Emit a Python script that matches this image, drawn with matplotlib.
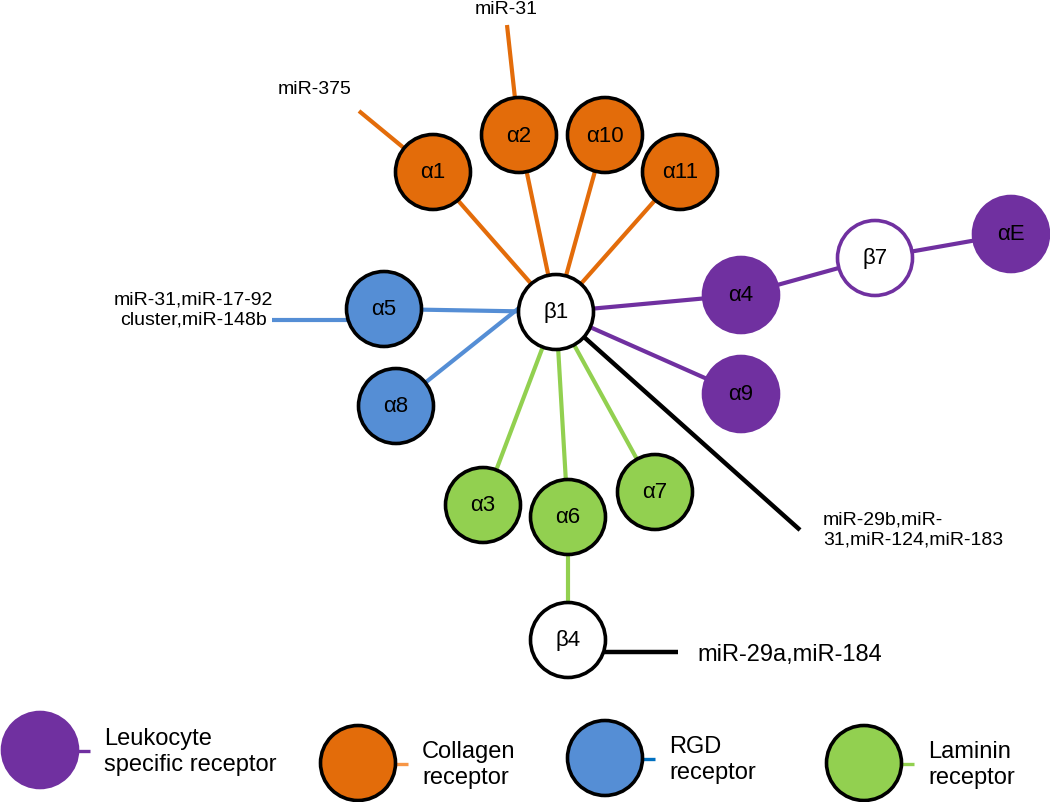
import matplotlib

matplotlib.use("Agg")
import matplotlib.pyplot as plt
from matplotlib.patches import Circle

plt.rcParams["font.family"] = ["Liberation Sans", "DejaVu Sans"]

PURPLE = "#7030A0"
ORANGE = "#E36C0A"
BLUE = "#558ED5"
GREEN = "#92D050"

# integrin nodes (pixel layout of the diagram)
node_names = ["β1", "α1", "α2", "α10", "α11", "α5", "α8", "α4", "α9", "β7", "αE", "α3", "α6", "α7", "β4"]
node_x = [556, 433, 519, 605, 680, 384, 396, 741, 741, 875, 1011, 483, 568, 655, 568]
node_y = [313, 173, 136, 136, 173, 310, 407, 296, 395, 259, 235, 506, 518, 493, 641]
node_fill = ["white", ORANGE, ORANGE, ORANGE, ORANGE, BLUE, BLUE, PURPLE, PURPLE, "white", PURPLE,
             GREEN, GREEN, GREEN, "white"]
node_edge = ["black", "black", "black", "black", "black", "black", "black", PURPLE, PURPLE, PURPLE, PURPLE,
             "black", "black", "black", "black"]

# heterodimer links
edge_src = ["α1", "α2", "α10", "α11", "α5", "α8", "α4", "α9", "β7", "β7", "α3", "α6", "α7", "β4"]
edge_dst = ["β1", "β1", "β1", "β1", "β1", "β1", "β1", "β1", "α4", "αE", "β1", "β1", "β1", "α6"]
edge_color = [ORANGE] * 4 + [BLUE] * 2 + [PURPLE] * 4 + [GREEN] * 4
edge_dst_dx = [0, 0, 0, 0, 0, -37, 0, 0, 0, 0, 0, 0, 0, 0]
edge_dst_dy = [0, 0, 0, 0, 0, -4, 0, 0, 0, 0, 0, 0, 0, 0]

# miRNA regulators
mir_node = ["α1", "α2", "α5", "β1", "β4"]
mir_end_x = [359, 507, 272, 800, 678]
mir_end_y = [112, 26, 321, 531, 653]
mir_attach_dy = [0, 0, 11, 0, 12]
mir_color = [ORANGE, ORANGE, BLUE, "black", "black"]
mir_text = ["miR-375", "miR-31", "miR-31,miR-17-92\ncluster,miR-148b",
            "miR-29b,miR-\n31,miR-124,miR-183", "miR-29a,miR-184"]
mir_text_x = [315, 506, 193, 823, 697]
mir_text_y = [89, 9, 310, 530, 655]
mir_text_ha = ["center", "center", "center", "left", "left"]
mir_text_size = [14, 14, 14, 14, 17]

# legend
legend_labels = ["Leukocyte\nspecific receptor", "Collagen\nreceptor", "RGD\nreceptor", "Laminin\nreceptor"]
legend_fill = [PURPLE, ORANGE, BLUE, GREEN]
legend_edge = [PURPLE, "black", "black", "black"]
legend_stub = [PURPLE, "#F79646", "#0070C0", GREEN]
legend_x = [40, 358, 605, 864]
legend_y = [751, 764, 759, 764]

R = 37.5

fig = plt.figure(figsize=(10.5, 8.03), dpi=100)
ax = fig.add_axes([0, 0, 1, 1])
ax.set_xlim(0, 1050)
ax.set_ylim(803, 0)
ax.set_aspect("equal")
ax.axis("off")

pos = {n: (x, y) for n, x, y in zip(node_names, node_x, node_y)}

for s, d, c, dx, dy in zip(edge_src, edge_dst, edge_color, edge_dst_dx, edge_dst_dy):
    x0, y0 = pos[s]
    x1, y1 = pos[d]
    ax.plot([x0, x1 + dx], [y0, y1 + dy], color=c, lw=3.0, solid_capstyle="butt", zorder=1)

for n, ex, ey, ady, c in zip(mir_node, mir_end_x, mir_end_y, mir_attach_dy, mir_color):
    x0, y0 = pos[n]
    ax.plot([ex, x0], [ey, y0 + ady], color=c, lw=3.2 if c == "black" else 3.0,
            solid_capstyle="butt", zorder=1)

for t, x, y, ha, fs in zip(mir_text, mir_text_x, mir_text_y, mir_text_ha, mir_text_size):
    ax.text(x, y, t, ha=ha, va="center", multialignment=ha, fontsize=fs, color="black", linespacing=1.25)

for n, x, y, fc, ec in zip(node_names, node_x, node_y, node_fill, node_edge):
    ax.add_patch(Circle((x, y), R, facecolor=fc, edgecolor=ec, lw=2.6, zorder=3))
    ax.text(x, y, n, ha="center", va="center", fontsize=16, color="black", zorder=4)

for lab, x, y, fc, ec, sc in zip(legend_labels, legend_x, legend_y, legend_fill, legend_edge, legend_stub):
    ax.plot([x + R - 2, x + R + 12], [y + 1, y + 1], color=sc, lw=2.4, solid_capstyle="butt", zorder=1)
    ax.add_patch(Circle((x, y), R, facecolor=fc, edgecolor=ec, lw=2.6, zorder=3))
    ax.text(x + 64, y + 1, lab, ha="left", va="center", fontsize=17, linespacing=1.2)

fig.savefig("out.png", dpi=100)
